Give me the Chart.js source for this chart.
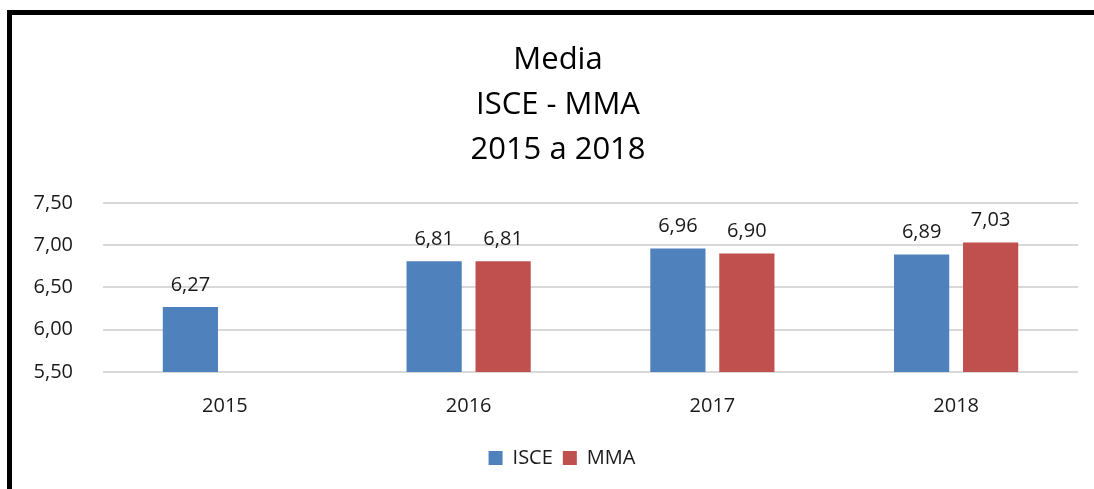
<!DOCTYPE html>
<html>
<head>
<meta charset="utf-8">
<script src="https://cdn.jsdelivr.net/npm/chart.js@4.4.1/dist/chart.umd.min.js"></script>
<style>
  html, body { margin: 0; padding: 0; background: #fff; overflow: hidden; }
  #frame {
    position: absolute; left: 7px; top: 10px;
    width: 1100px; height: 500px;
    border-top: 5px solid #000; border-left: 5px solid #000;
  }
  #wrap { position: absolute; left: 12px; top: 15px; width: 1082px; height: 474px; }
</style>
</head>
<body>
<div id="frame"></div>
<div id="wrap"><canvas id="chart"></canvas></div>
<script>
const years = ['2015', '2016', '2017', '2018'];
const isceValues = [6.27, 6.81, 6.96, 6.89];
const mmaValues = [null, 6.81, 6.90, 7.03];
const titleLines = ['Media', 'ISCE - MMA', '2015 a 2018'];

const fmt = v => v.toFixed(2).replace('.', ',');
const font = 'Open Sans';

// draws the value above each bar
const valueLabels = {
  id: 'valueLabels',
  afterDatasetsDraw(chart) {
    const ctx = chart.ctx;
    ctx.save();
    ctx.font = `20px "${font}"`;
    ctx.fillStyle = '#1a1a1a';
    ctx.textAlign = 'center';
    ctx.textBaseline = 'bottom';
    chart.data.datasets.forEach((ds, i) => {
      chart.getDatasetMeta(i).data.forEach((bar, j) => {
        const v = ds.data[j];
        if (v == null) return;
        ctx.fillText(fmt(v), bar.x, bar.y - 12);
      });
    });
    ctx.restore();
  }
};

// title and legend sit a bit right of the canvas centre in the original
const centreShift = {
  id: 'centreShift',
  afterLayout(chart) {
    if (chart.titleBlock) chart.titleBlock.left += 26;
    if (chart.legend) chart.legend.left += 34;
  }
};

new Chart(document.getElementById('chart'), {
  type: 'bar',
  data: {
    labels: years,
    datasets: [
      { label: 'ISCE', data: isceValues, backgroundColor: '#4f81bd' },
      { label: 'MMA', data: mmaValues, backgroundColor: '#c0504d' }
    ]
  },
  options: {
    responsive: true,
    maintainAspectRatio: false,
    animation: false,
    datasets: { bar: { categoryPercentage: 0.566, barPercentage: 0.8 } },
    layout: { padding: { left: 0, right: 16, top: 0, bottom: 11 } },
    plugins: {
      title: {
        display: true,
        text: titleLines,
        color: '#000',
        font: { family: font, size: 31, weight: 'normal', lineHeight: 1.45 },
        padding: { top: 23, bottom: 30 }
      },
      legend: {
        position: 'bottom',
        labels: {
          color: '#1a1a1a',
          font: { family: font, size: 20 },
          boxWidth: 14, boxHeight: 14,
          padding: 10
        }
      },
      tooltip: { enabled: false }
    },
    scales: {
      x: {
        afterFit: s => { s.height += 6; },
        grid: { display: false },
        border: { display: false },
        ticks: { color: '#1a1a1a', font: { family: font, size: 20 }, padding: 14 }
      },
      y: {
        min: 5.5, max: 7.5,
        afterFit: s => { s.width = 91; },
        grid: { color: '#d9d9d9', lineWidth: 2, drawTicks: false },
        border: { display: false },
        ticks: {
          stepSize: 0.5,
          color: '#1a1a1a',
          font: { family: font, size: 20 },
          padding: 30,
          callback: v => fmt(v)
        }
      }
    }
  },
  plugins: [valueLabels, centreShift]
});
</script>
</body>
</html>
